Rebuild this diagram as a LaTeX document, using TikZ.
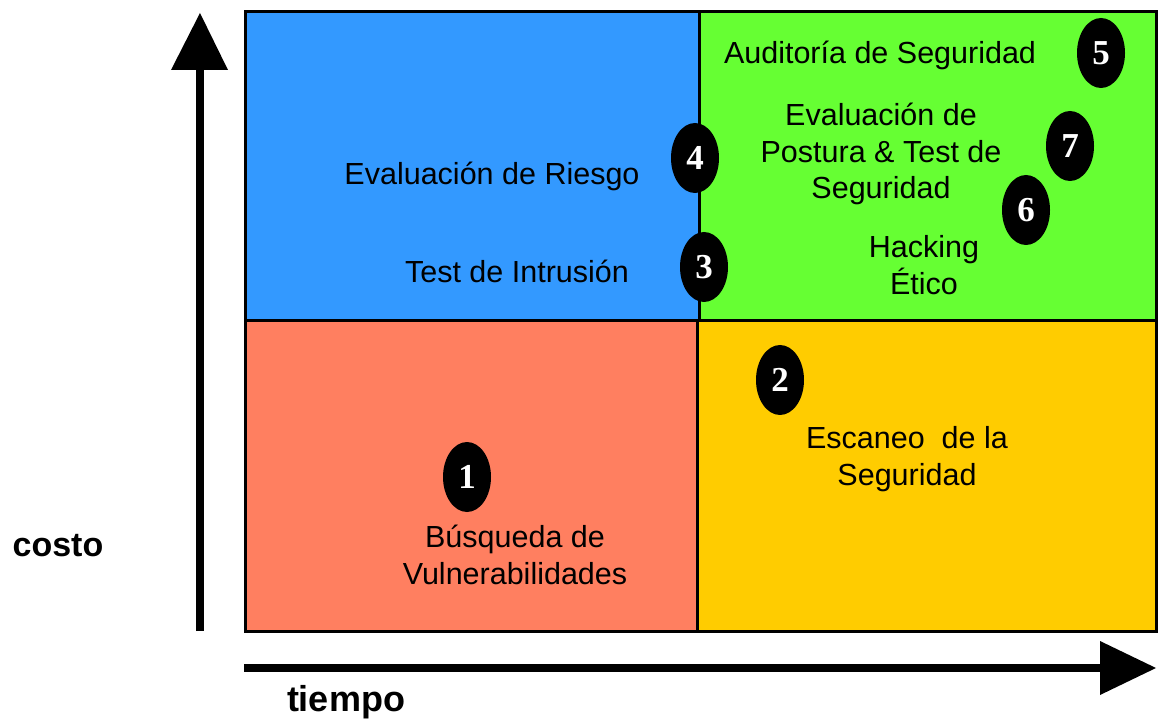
\documentclass[tikz,border=0pt]{standalone}
\usepackage{fontspec}
\setmainfont{Liberation Sans}
\newfontfamily\numfont{Liberation Serif}
\usetikzlibrary{shapes.geometric}
\definecolor{qblue}{HTML}{3399FF}
\definecolor{qgreen}{HTML}{66FF33}
\definecolor{qred}{HTML}{FF7F60}
\definecolor{qyellow}{HTML}{FFCC00}
\tikzset{
  quad/.style={draw=black, line width=3pt},
  num/.style={ellipse, fill=black, minimum width=48pt, minimum height=70pt, inner sep=0pt,
    text=white, font=\numfont\bfseries\fontsize{35}{35}\selectfont},
  lbl/.style={align=center, font=\fontsize{30.5}{36.5}\selectfont, inner sep=0pt},
  axlbl/.style={font=\bfseries\fontsize{34}{36}\selectfont, inner sep=0pt},
  axis/.style={line width=8pt},
}
\begin{document}
\begin{tikzpicture}[x=1pt,y=-1pt]
\useasboundingbox (0,0) rectangle (1160,719);
% quadrants
\filldraw[quad, fill=qblue] (245,12) rectangle (699,321);
\filldraw[quad, fill=qgreen] (699,12) rectangle (1156,321);
\filldraw[quad, fill=qred] (245,321) rectangle (697,631);
\filldraw[quad, fill=qyellow] (697,321) rectangle (1156,631);
% axes
\coordinate (ybot) at (200,631);
\coordinate (ytop) at (200,70);
\draw[axis] (ybot) -- (ytop);
\fill (171,70) -- (200,13) -- (228,70) -- cycle;
\coordinate (xl) at (244,668);
\coordinate (xr) at (1102,668);
\draw[axis] (xl) -- (xr);
\fill (1100,641) -- (1156,668) -- (1100,695) -- cycle;
\node[axlbl] (costo) at (58,546) {costo};
\node[axlbl, font=\bfseries\fontsize{36}{38}\selectfont] (tiempo) at (346,702) {tiempo};
% labels
\node[lbl] (t5) at (880,55) {Auditoría de Seguridad};
\node[lbl] (t7) at (881,154) {Evaluación de\\Postura \& Test de\\Seguridad};
\node[lbl] (t6) at (924,265) {Hacking\\Ético};
\node[lbl] (t4) at (492,176) {Evaluación de Riesgo};
\node[lbl] (t3) at (517,271) {Test de Intrusión};
\node[lbl] (t2) at (907,459) {Escaneo~ de la\\Seguridad};
\node[lbl] (t1) at (515,555) {Búsqueda de\\Vulnerabilidades};
% numbers
\node[num] (n1) at (467,477) {1};
\node[num] (n2) at (780,380) {2};
\node[num] (n3) at (704,267) {3};
\node[num] (n4) at (695,158) {4};
\node[num] (n5) at (1101,53) {5};
\node[num] (n6) at (1026,210) {6};
\node[num] (n7) at (1070,146) {7};
\end{tikzpicture}
\end{document}
